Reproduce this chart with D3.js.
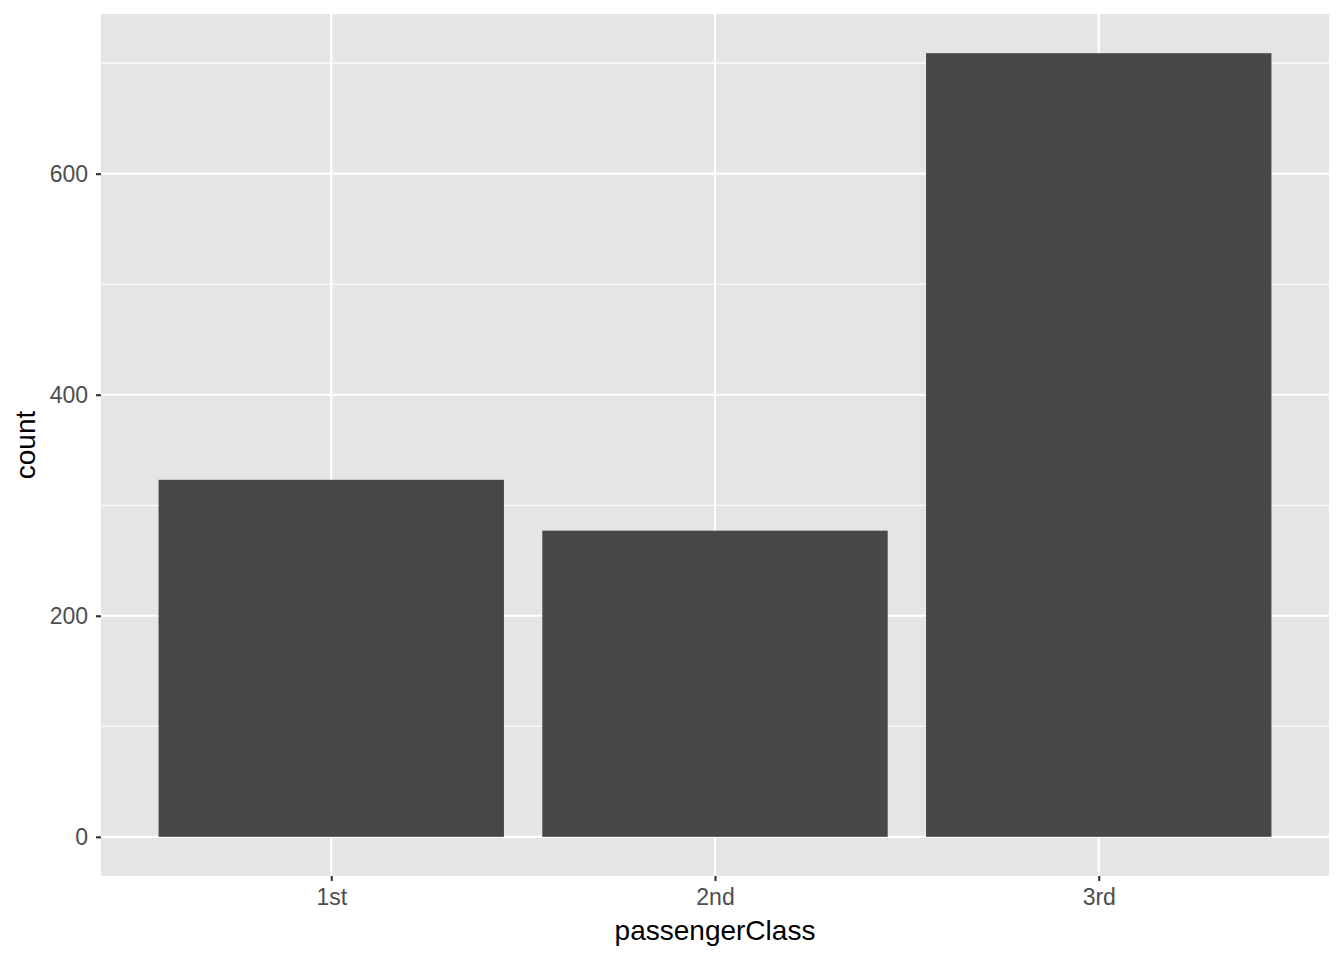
<!DOCTYPE html>
<html>
<head>
<meta charset="utf-8">
<script src="https://cdn.jsdelivr.net/npm/d3@7"></script>
<style>
  body { margin: 0; background: #fff; }
  svg { display: block; font-family: "Liberation Sans", Arial, sans-serif; }
</style>
</head>
<body>
<div id="chart"></div>
<script>
// passenger counts by class
const categories = ["1st", "2nd", "3rd"];
const counts = [323, 277, 709];
const yTicks = [0, 200, 400, 600];
const yMinorTicks = [100, 300, 500, 700];

const width = 1344;
const height = 960;
const margin = { top: 14, right: 15, bottom: 84, left: 101 };

const svg = d3.select("#chart")
  .append("svg")
  .attr("width", width)
  .attr("height", height);

const innerW = width - margin.left - margin.right;
const innerH = height - margin.top - margin.bottom;

const g = svg.append("g")
  .attr("transform", `translate(${margin.left},${margin.top})`);

// ggplot-style expansion: discrete 0.6 each side, continuous 5%
const x = d3.scaleLinear()
  .domain([0.4, categories.length + 0.6])
  .range([0, innerW]);

const yMax = d3.max(counts);
const y = d3.scaleLinear()
  .domain([-yMax * 0.05, yMax * 1.05])
  .range([innerH, 0]);

// panel background
g.append("rect")
  .attr("width", innerW)
  .attr("height", innerH)
  .attr("fill", "#e5e5e5");

// minor grid
g.selectAll(".minor")
  .data(yMinorTicks)
  .join("line")
  .attr("x1", 0).attr("x2", innerW)
  .attr("y1", d => y(d)).attr("y2", d => y(d))
  .attr("stroke", "#fff")
  .attr("stroke-width", 1.07);

// major grid
g.selectAll(".majorY")
  .data(yTicks)
  .join("line")
  .attr("x1", 0).attr("x2", innerW)
  .attr("y1", d => y(d)).attr("y2", d => y(d))
  .attr("stroke", "#fff")
  .attr("stroke-width", 2.13);

g.selectAll(".majorX")
  .data(categories)
  .join("line")
  .attr("x1", (d, i) => x(i + 1)).attr("x2", (d, i) => x(i + 1))
  .attr("y1", 0).attr("y2", innerH)
  .attr("stroke", "#fff")
  .attr("stroke-width", 2.13);

// bars
const barW = x(1.45) - x(0.55);
g.selectAll(".bar")
  .data(counts)
  .join("rect")
  .attr("x", (d, i) => x(i + 1) - barW / 2)
  .attr("width", barW)
  .attr("y", d => y(d))
  .attr("height", d => y(0) - y(d))
  .attr("fill", "#474747");

// y axis
const yAxis = g.append("g")
  .call(d3.axisLeft(y).tickValues(yTicks).tickSize(5).tickPadding(8));
yAxis.select(".domain").remove();
yAxis.selectAll(".tick line").attr("stroke", "#333").attr("stroke-width", 2.13);
yAxis.selectAll(".tick text")
  .attr("fill", "#4d4d4d")
  .style("font-size", "23px");

// x axis
const xAxis = g.append("g")
  .attr("transform", `translate(0,${innerH})`)
  .call(d3.axisBottom(x)
    .tickValues(categories.map((d, i) => i + 1))
    .tickFormat((d, i) => categories[i])
    .tickSize(5).tickPadding(8));
xAxis.select(".domain").remove();
xAxis.selectAll(".tick line").attr("stroke", "#333").attr("stroke-width", 2.13);
xAxis.selectAll(".tick text")
  .attr("fill", "#4d4d4d")
  .style("font-size", "23px");

// axis titles
svg.append("text")
  .attr("x", margin.left + innerW / 2)
  .attr("y", 940)
  .attr("text-anchor", "middle")
  .style("font-size", "28px")
  .attr("fill", "#000")
  .text("passengerClass");

svg.append("text")
  .attr("transform", `translate(35,${margin.top + innerH / 2}) rotate(-90)`)
  .attr("text-anchor", "middle")
  .style("font-size", "28px")
  .attr("fill", "#000")
  .text("count");
</script>
</body>
</html>
